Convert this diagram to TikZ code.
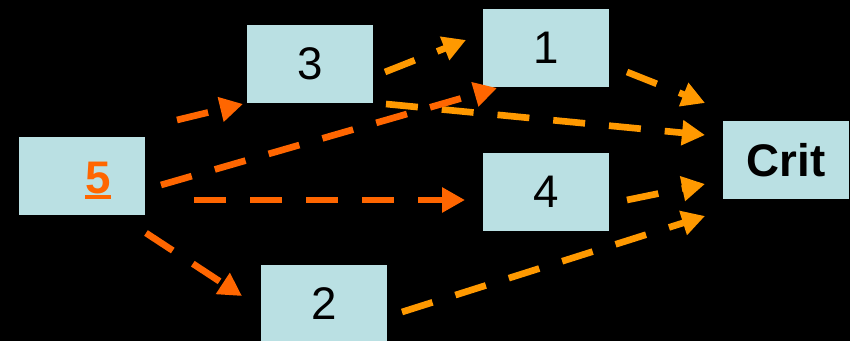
\documentclass[tikz,border=0pt]{standalone}
\usepackage{fontspec}
\setmainfont{Liberation Sans}
\usetikzlibrary{arrows.meta}
\definecolor{boxblue}{HTML}{BAE0E3}
\definecolor{darkor}{HTML}{FF6600}
\definecolor{lightor}{HTML}{FF9900}
\begin{document}
\begin{tikzpicture}[x=0.03cm,y=-0.03cm,
  box/.style={fill=boxblue, draw=none, minimum width=3.78cm, minimum height=2.34cm, inner sep=0pt,
    font=\fontsize{39}{40}\selectfont},
  conn/.style={line width=0.2cm, dash pattern=on 0.96cm off 0.72cm,
    -{Triangle[length=0.69cm,width=0.72cm]}},
  darr/.style={conn, draw=darkor},
  larr/.style={conn, draw=lightor}]
\fill[black] (0,0) rectangle (850,341);
\useasboundingbox (0,0) rectangle (850,341);

\node[box] (n5) at (82,176) {};
\node[inner sep=0pt, text=darkor, font=\fontsize{39}{40}\selectfont\bfseries, anchor=base] (t5) at (98,193) {5};
\draw[darkor, line width=3.4pt] ([yshift=-4*0.03cm]t5.base west) -- ([yshift=-4*0.03cm]t5.base east);
\node[box] (n3) at (310,64) {3};
\node[box] (n1) at (546,48) {1};
\node[box] (n4) at (546,192) {4};
\node[box] (n2) at (324,304) {2};
\node[box, font=\fontsize{39}{40}\selectfont\bfseries] (crit) at (786,160) {Crit};

% free ends of connectors
\coordinate (a53) at (177,120);  \coordinate (b53) at (243,104);
\coordinate (a51) at (161,185);  \coordinate (b51) at (497,88);
\coordinate (a54) at (194,200);  \coordinate (b54) at (465,200);
\coordinate (a52) at (146,233);  \coordinate (b52) at (242,296);
\coordinate (a31) at (385,72);   \coordinate (b31) at (466,40);
\coordinate (a3c) at (386,104);  \coordinate (b3c) at (705,135);
\coordinate (a1c) at (627,72);   \coordinate (b1c) at (705,103);
\coordinate (a4c) at (627,200);  \coordinate (b4c) at (705,184);
\coordinate (a2c) at (402,312);  \coordinate (b2c) at (705,216);

\draw[larr] (a3c) -- (b3c);
\draw[darr] (a53) -- (b53);
\draw[darr] (a51) -- (b51);
\draw[darr] (a54) -- (b54);
\draw[darr] (a52) -- (b52);
\draw[larr] (a31) -- (b31);
\draw[larr] (a1c) -- (b1c);
\draw[larr] (a4c) -- (b4c);
\draw[larr] (a2c) -- (b2c);
\end{tikzpicture}
\end{document}
